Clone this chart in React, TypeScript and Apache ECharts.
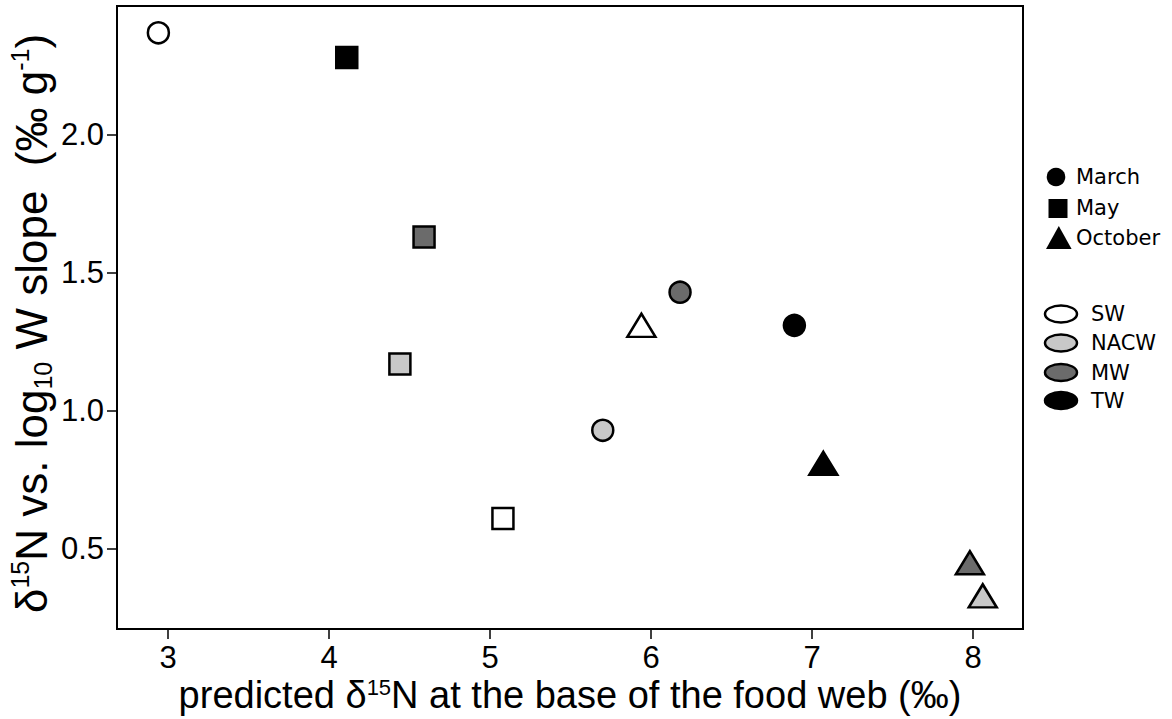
import React, { useEffect, useRef } from 'react';
import * as echarts from 'echarts';

const waterMasses = ['SW', 'NACW', 'MW', 'TW'];
const massColors = ['#ffffff', '#c8c8c8', '#6b6b6b', '#000000'];
const months = ['March', 'May', 'October'];
const monthSymbols = ['circle', 'rect', 'triangle'];
const marchX = [2.94, 5.7, 6.18, 6.89];
const marchY = [2.37, 0.93, 1.43, 1.31];
const mayX = [5.08, 4.44, 4.59, 4.11];
const mayY = [0.61, 1.17, 1.63, 2.28];
const octX = [5.94, 8.06, 7.98, 7.07];
const octY = [1.31, 0.33, 0.45, 0.81];
const xTicks = [3, 4, 5, 6, 7, 8];
const yTicks = [0.5, 1.0, 1.5, 2.0];

const AX_FONT = 'Liberation Sans, Arial, sans-serif';
const LEG_FONT = 'DejaVu Sans, Verdana, sans-serif';

export default function App() {
  const ref = useRef<HTMLDivElement>(null);
  useEffect(() => {
    if (!ref.current) return;
    const chart = echarts.init(ref.current, null, { renderer: 'svg' });
    const xs = [marchX, mayX, octX];
    const ys = [marchY, mayY, octY];
    const sizes: any[] = [21, 21, [28, 23]];
    const series = months.map((m, k) => ({
      type: 'scatter',
      name: m,
      symbol: monthSymbols[k],
      symbolSize: sizes[k],
      itemStyle: { opacity: 1 },
      emphasis: { disabled: true },
      data: xs[k].map((x, i) => ({
        name: waterMasses[i],
        value: [x, ys[k][i]],
        itemStyle: { color: massColors[i], borderColor: '#000', borderWidth: 2.5, opacity: 1 },
      })),
    }));

    const xRich = {
      t: { fontSize: 38, fontFamily: AX_FONT, color: '#000', lineHeight: 38 },
      sup: { fontSize: 22, fontFamily: AX_FONT, color: '#000', verticalAlign: 'top' },
    };
    const yRich = {
      t: { fontSize: 44, fontFamily: AX_FONT, color: '#000', lineHeight: 48 },
      sup: { fontSize: 25, fontFamily: AX_FONT, color: '#000', verticalAlign: 'top' },
      sub: { fontSize: 25, fontFamily: AX_FONT, color: '#000', verticalAlign: 'bottom' },
    };

    const legendGraphics: any[] = [
      { type: 'circle', shape: { cx: 1056, cy: 177, r: 9.3 }, style: { fill: '#000' } },
      { type: 'rect', shape: { x: 1048.5, y: 199, width: 19, height: 19 }, style: { fill: '#000' } },
      {
        type: 'polygon',
        shape: { points: [[1046, 249], [1071.6, 249], [1058.8, 226]] },
        style: { fill: '#000' },
      },
    ];
    const monthY = [177, 208, 238];
    months.forEach((m, k) => {
      legendGraphics.push({
        type: 'text',
        x: 1076,
        y: monthY[k],
        style: { text: m, fontSize: 21, fontFamily: LEG_FONT, fill: '#000', align: 'left', verticalAlign: 'middle' },
      });
    });
    const massY = [314, 343, 372.5, 400.5];
    waterMasses.forEach((w, i) => {
      legendGraphics.push({
        type: 'ellipse',
        shape: { cx: 1061, cy: massY[i], rx: 16, ry: 8.5 },
        style: { fill: massColors[i], stroke: '#000', lineWidth: 2.5 },
      });
      legendGraphics.push({
        type: 'text',
        x: 1091,
        y: massY[i],
        style: { text: w, fontSize: 21, fontFamily: LEG_FONT, fill: '#000', align: 'left', verticalAlign: 'middle' },
      });
    });

    chart.setOption({
      animation: false,
      backgroundColor: '#ffffff',
      grid: {
        left: 117,
        right: 149,
        top: 6,
        bottom: 90,
        show: true,
        borderColor: '#000',
        borderWidth: 2,
        containLabel: false,
        outerBoundsMode: 'none',
      },
      xAxis: {
        type: 'value',
        min: 2.683,
        max: 8.31,
        axisLine: { show: true, onZero: false, lineStyle: { color: '#000', width: 2 } },
        axisTick: { show: true, inside: false, length: 10, customValues: xTicks, lineStyle: { color: '#000', width: 1.5 } },
        axisLabel: { customValues: xTicks, fontSize: 31, fontFamily: AX_FONT, color: '#000', margin: 13 },
        splitLine: { show: false },
        name: '{t|predicted δ}{sup|15}{t|N at the base of the food web (‰)}',
        nameLocation: 'middle',
        nameGap: 47,
        nameMoveOverlap: false,
        nameTextStyle: { rich: xRich },
      },
      yAxis: {
        type: 'value',
        min: 0.21,
        max: 2.467,
        axisLine: { show: true, onZero: false, lineStyle: { color: '#000', width: 2 } },
        axisTick: { show: true, inside: false, length: 10, customValues: yTicks, lineStyle: { color: '#000', width: 1.5 } },
        axisLabel: {
          customValues: yTicks,
          fontSize: 31,
          fontFamily: AX_FONT,
          color: '#000',
          margin: 13,
          formatter: (v: number) => v.toFixed(1),
        },
        splitLine: { show: false },
        name: '{t|δ}{sup|15}{t|N vs. log}{sub|10}{t| W slope  (‰ g}{sup|-1}{t|)}',
        nameLocation: 'middle',
        nameRotate: 90,
        nameGap: 62,
        nameMoveOverlap: false,
        nameTextStyle: { rich: yRich, padding: [0, 12, 0, 0] },
      },
      graphic: legendGraphics,
      series,
    });
    return () => chart.dispose();
  }, []);
  return (
    <div
      ref={ref}
      style={{ position: 'fixed', left: 0, top: 0, width: 1172, height: 719, background: '#fff' }}
    />
  );
}
